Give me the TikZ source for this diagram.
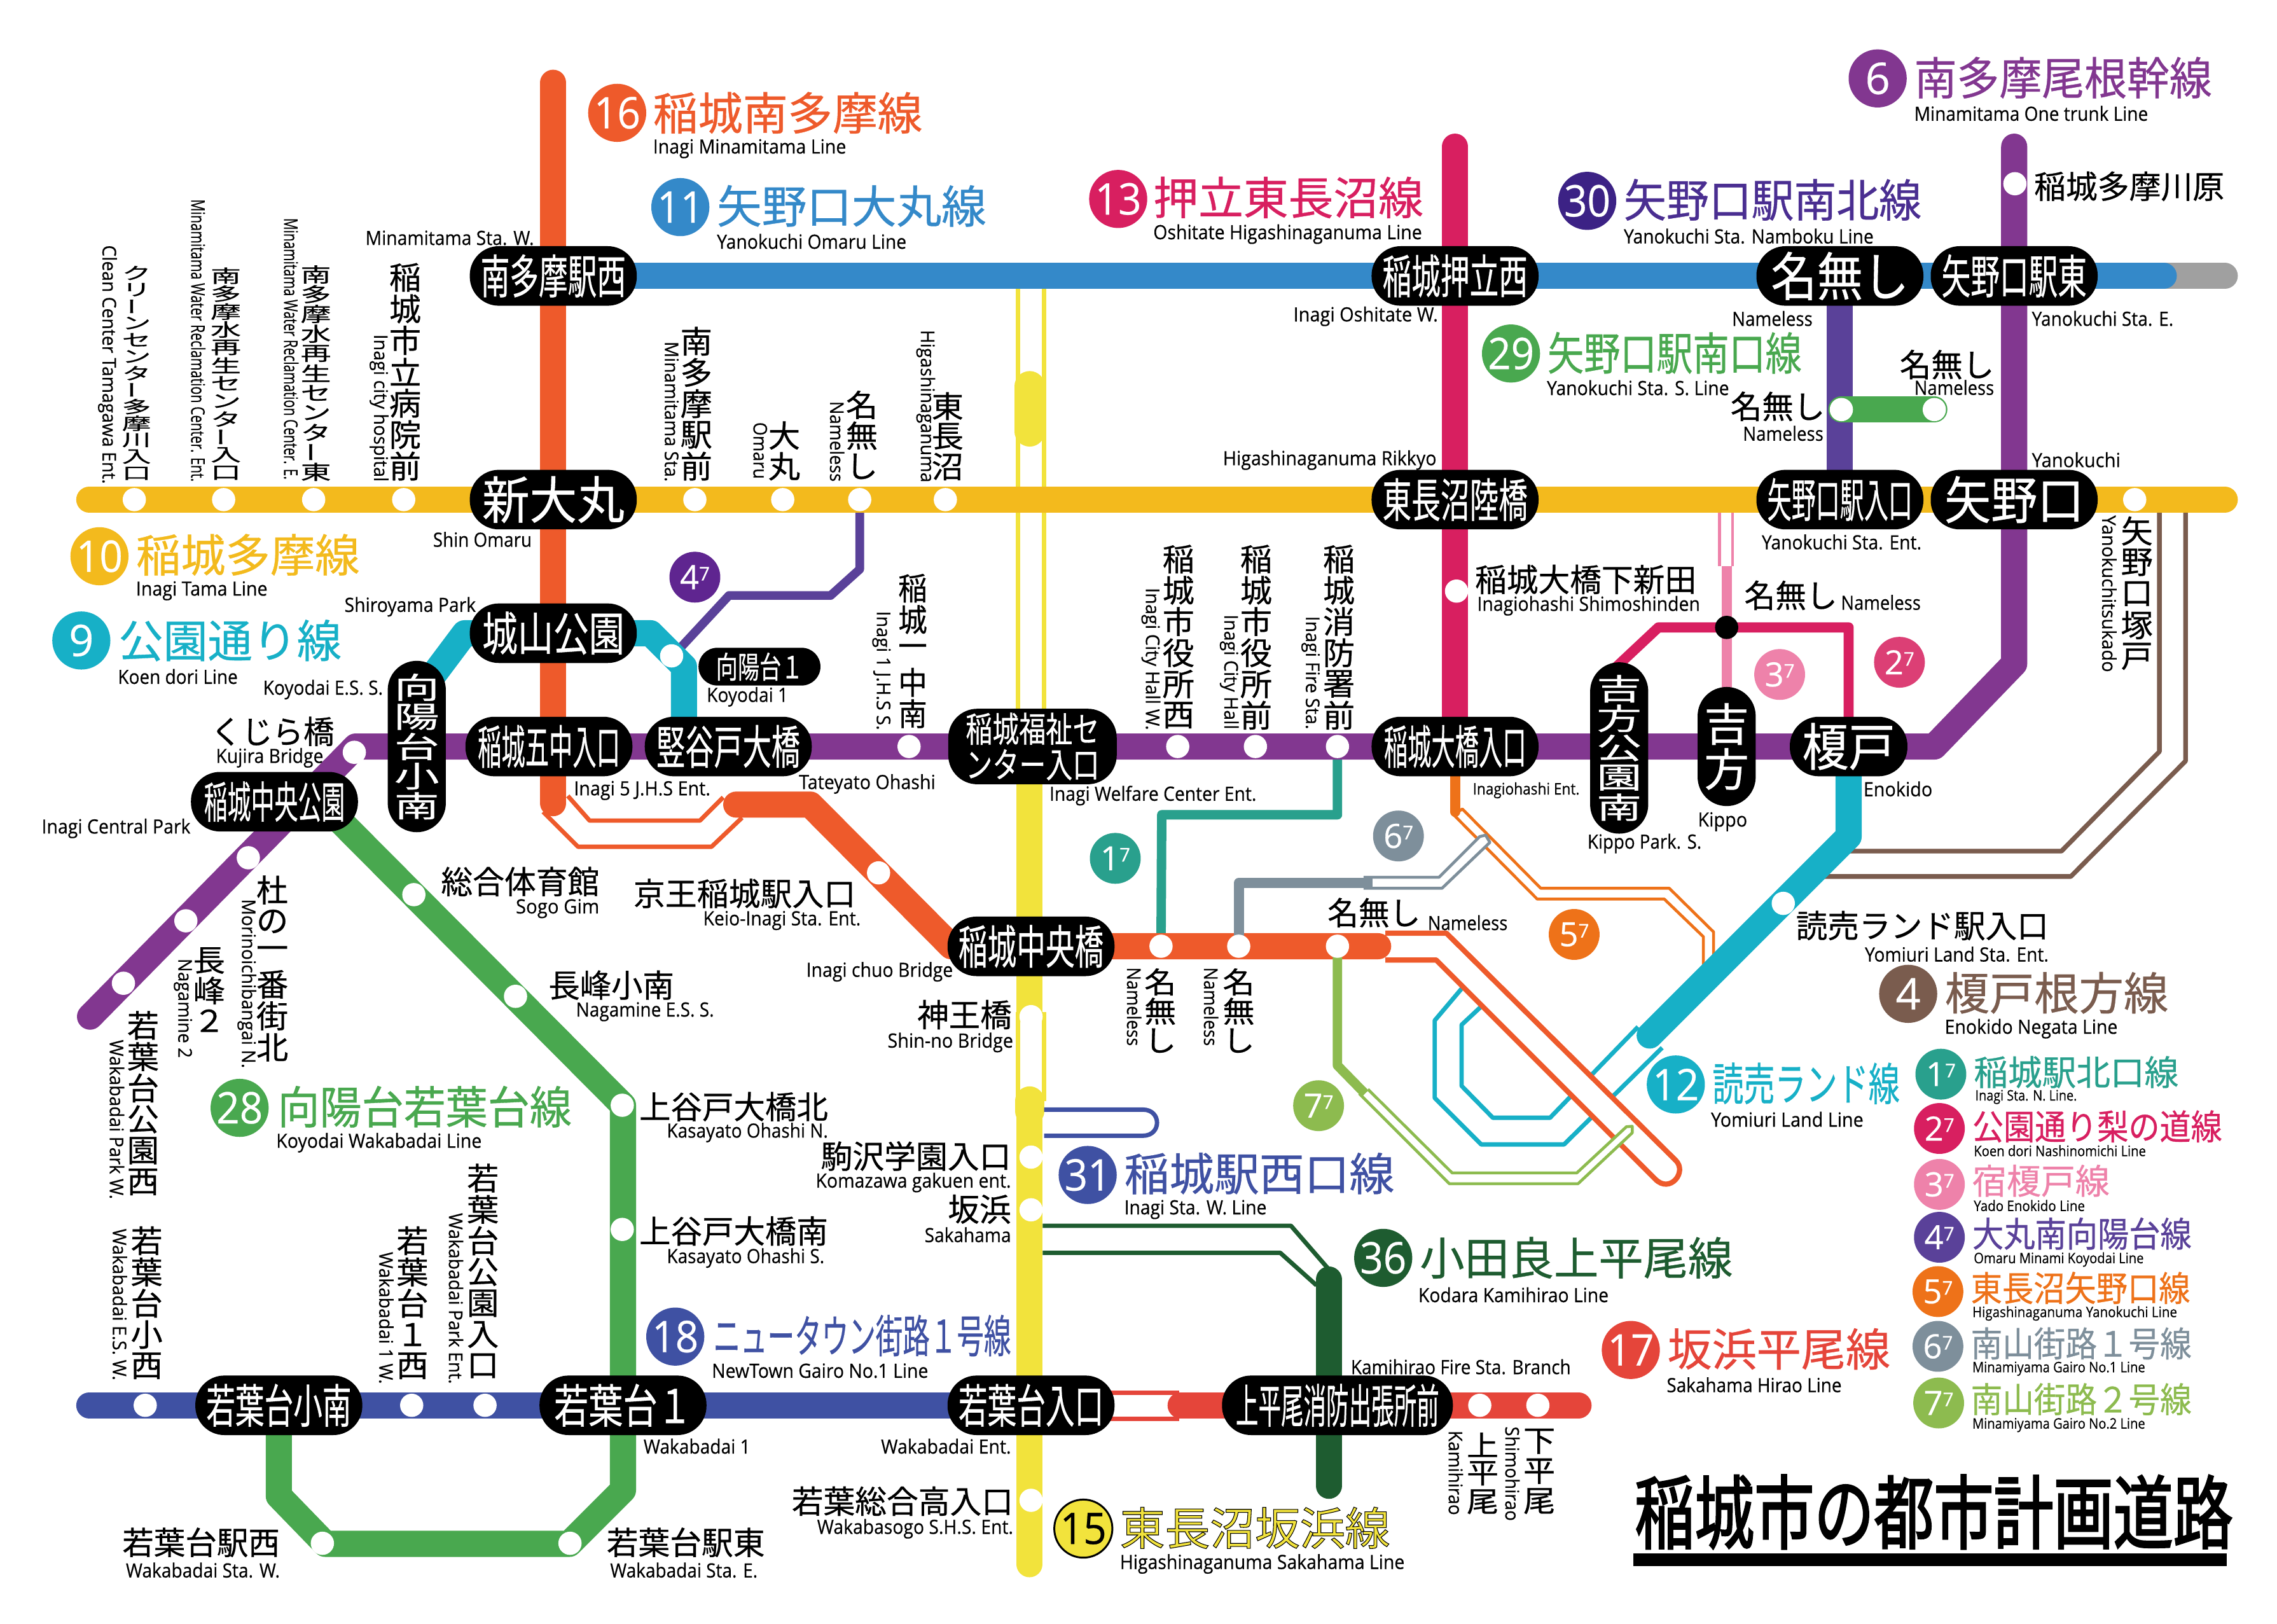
\documentclass[tikz,border=0pt]{standalone}
\usepackage{fontspec}
\usepackage{graphicx}
\usetikzlibrary{backgrounds}
\setmainfont{Open Sans}
\newfontfamily\jp{Noto Sans CJK JP}[FakeBold=0.5]
\newfontfamily\jpo{Noto Sans CJK JP}[FakeBold=1.5]
\newfontfamily\jph{Noto Sans CJK JP}[FakeBold=2.4]
\newfontfamily\lf{Open Sans}[FakeBold=0.4]
\definecolor{cOr}{HTML}{EE5A2B}
\definecolor{cBl}{HTML}{3489C9}
\definecolor{cYe}{HTML}{F3BA1D}
\definecolor{cCy}{HTML}{17B0C7}
\definecolor{cCr}{HTML}{D81F60}
\definecolor{cDv}{HTML}{3C2285}
\definecolor{cPu}{HTML}{823790}
\definecolor{cGr}{HTML}{49A84F}
\definecolor{cBr}{HTML}{7A5C4E}
\definecolor{cDg}{HTML}{1E5C30}
\definecolor{cRe}{HTML}{E5453A}
\definecolor{cNv}{HTML}{3F51A3}
\definecolor{cLy}{HTML}{F2E33C}
\definecolor{cTe}{HTML}{29A08D}
\definecolor{cMg}{HTML}{DC3F75}
\definecolor{cPk}{HTML}{EE82AA}
\definecolor{cVi}{HTML}{5A4199}
\definecolor{cDp}{HTML}{5F2590}
\definecolor{cOg}{HTML}{EE7219}
\definecolor{cGy}{HTML}{7E8F9B}
\definecolor{cLg}{HTML}{8DBB4F}
\definecolor{cSv}{HTML}{A0A0A0}
\definecolor{cTv}{HTML}{4A2E91}
\newcount\lc
\makeatletter
\newcommand\vstack[1]{\vbox{\offinterlineskip\@tfor\vchr:=#1\do{\hbox to 20pt{\hss\vbox to 20pt{\vss\hbox{\fontsize{20}{20}\selectfont\vchr}\vss}\hss}}}}
\makeatother
\newcommand\cho{\rotatebox{90}{ー}}
\newcommand\fit[3]{\resizebox{#1pt}{\height}{\fontsize{#2}{#2}\selectfont #3}}
\newcommand\hl[7]{\global\advance\lc by 1
  \pgfmathsetlengthmacro\lw{#5-#4}%
  \node[anchor=west,inner sep=0pt,text=#3,name=L\the\lc] at (#4,#6) {\resizebox{\lw}{\height}{#1\fontsize{#2}{#2}\selectfont #7}};}
\newcommand\la[4]{\pgfmathsetmacro\ly{#3+0.8}\hl{\lf}{13.5}{black}{#1}{#2}{\ly}{#4}}
\newcommand\las[4]{\hl{\lf}{10}{black}{#1}{#2}{#3}{#4}}
\newcommand\lj[4]{\hl{\jp}{22}{black}{#1}{#2}{#3}{#4}}
\newcommand\ttlc[5]{\hl{\jp}{31}{#1}{#2}{#3}{#4}{#5}}
\newcommand\lgt[5]{\hl{\jp}{24}{#1}{#2}{#3}{#4}{#5}}
\newcommand\rl[4]{\global\advance\lc by 1
  \pgfmathsetlengthmacro\lw{#3-#2}%
  \node[anchor=west,rotate=-90,inner sep=0pt,name=L\the\lc] at (#1,#2) {\resizebox{\lw}{\height}{\lf\fontsize{13}{13}\selectfont #4}};}
\newcommand\vj[5]{\global\advance\lc by 1
  \pgfmathsetlengthmacro\lw{#3-#2}%
  \node[anchor=north,inner sep=0pt,name=L\the\lc] at (#1,#2) {\resizebox*{#4pt}{\lw}{\jp\vstack{#5}}};}
\newcommand\bdgb[5]{\node[bigb,fill=#2] (#1) at (#3,#4) {\fit{32}{30}{#5}};}
\newcommand\bdga[5]{\node[bigb,fill=#2] (#1) at (#3,#4) {\fontsize{30}{30}\selectfont #5};}
\newcommand\bdgs[5]{\node[smallb,fill=#2] (#1) at (#3,#4) {\fontsize{23}{23}\selectfont #5\raisebox{6pt}{\fontsize{13}{13}\selectfont 7}};}
\tikzset{
  pill/.style={rectangle,fill=black,text=white,rounded corners=20pt,inner sep=0pt,minimum width=115pt,minimum height=41pt},
  vpill/.style={rectangle,fill=black,text=white,rounded corners=20pt,inner sep=0pt,minimum width=40pt},
  dot/.style={circle,fill=white,inner sep=0pt,minimum size=16pt},
  bigb/.style={circle,inner sep=0pt,minimum size=40pt,text=white,font=\lf},
  smallb/.style={circle,inner sep=0pt,minimum size=35pt,text=white,font=\lf},
  thick18/.style={line width=18pt,line cap=round,line join=round},
  thin3/.style={line width=3pt,line join=round,line cap=butt},
  thin2/.style={line width=2pt,line join=round,line cap=butt},
  mid7/.style={line width=7pt,line join=round,line cap=butt},
}
\begin{document}
\begin{tikzpicture}[x=1pt,y=-1pt]
\useasboundingbox (0,0) rectangle (1568,1118);
% ---------- route corners
\foreach \n/\x/\y in {
 tamaW/61.5/344,tamaE/1532/344,blueE/1490/190,greyE/1532/190,
 orTop/381/57,orEnd/381/553,or2S/507/554,or2C/558/554,or2D/655/651.5,or3E/949/651.5,
 ua1/391/548,ua2/406/565,ua3/482/565,ua4/498/549,ub1/374/559,ub2/398/583,ub3/490/583,ub4/511/563,
 ot1/954/642.5,ot2/996/642.5,ot3/1154/799,ot4/1162/807,ot5/1150/822,ot6/1140/812,ot7/989/661,ot8/954/661,
 puTop/1387/101,puA/1387/457,puB/1332/514,puC/245/514,puD/62/700,
 cyA/287/480,cyB/320/436,cyC/448/436,cyD/471/459,
 viA/592/392,viB/572/410,viC/502/410,viD/463/452,
 grA/192/1030,grB/224/1063,grC/392/1063,grD/429/1026,grE/429/761,grF/221/552,
 yLa/701/199,yLb/701/520,yRa/719/199,yRb/719/520,capA/709/266,capB/709/297,yMa/709/520,yMb/709/697,
 yLc/701/697,yLd/701/758,yRc/719/697,yRd/719/758,yBa/709/758,yBb/709/1077,yBc/709/765,
 nvA/719/764,nvB/787/764,nvC/800/764,nvD/800/782,nvE/787/782,nvF/719/782,
 reLa/718/959,reLb/812/959,reRa/718/977,reRb/812/977,reS/813/967.6,reE/1087/967.6,
 dgA/915/881,dgB/915/1023,dtA/718/844,dtB/889/844,dtC/922/882,dtD/718/862.6,dtE/881.6/862.6,dtF/906.6/885,
 crTop/1002/101,pkA/1189/390,pkLa/1184/350,pkLb/1184/390,pkRa/1193/350,pkRb/1193/390,
 mgA/1110/462,mgB/1142/432,mgC/1273/432,
 brA/1487/350,brB/1487/517.5,brC/1419.6/586,brD/1270/586,brE/1505/350,brF/1505/524,brG/1426/603.5,brH/1252/603.5,
 cyE/1273/576,cyF/1136/713,
 li1/1128/707,li2/1067.4/769.6,li3/1028/769.6,li4/1006.5/747.7,li5/1006.5/705.6,li6/1020/693,
 lo1/1144.6/721.4,lo2/1077/788,lo3/1020/788,lo4/988/756,lo5/988/702.6,lo6/1006.5/680.7,
 ogA/1002/559,oa1/1007/557,oa2/1061/611.6,oa3/1149.5/611.6,oa4/1180/641.7,oa5/1180/660,
 ob1/1001/561,ob2/1058.5/619,ob3/1146/619,ob4/1173/645,ob5/1173/664,
 gyA/853/608,gyB/945/608,ga1/939/604,ga2/991/604,ga3/1019/576,ga4/1023/575,ga5/1026/580,ga6/993/611.6,ga7/939/611.6,
 teA/921/561,teB/800/561,
 lgA/921/733.6,lgB/940/753,lt1/942/750,lt2/1000/807.6,lt3/1085.8/807.6,lt4/1120/775.8,lt5/1124/775.5,lt6/1124/780,lt7/1086.7/815,lt8/998/815,lt9/936/753}
 \coordinate (\n) at (\x,\y);
% ---------- stations
\foreach \n/\x/\y in {
 s1/92.5/344,s2/154/344,s3/216/344,s4/278/344,s5/478.5/344,s6/539/344,s7/592/344,s8/651/344,s9/1470/344,
 k1/244/518,m1/626/514,m2/811/514,m3/864.5/514,m4/921/514,p1/171/590.6,p2/128/634,p3/85/677,
 r1/1387.5/126.5,r2/1003/407,g1/1268/282,g2/1332/282,c1/462.5/451.6,c2/1228/622,
 o1/605/601,o2/799.5/651.5,o3/853/651.5,o4/921/651.5,
 y1/710/700,y2/710/796.7,y3/710/833,y4/710/1033,
 t1/285/616,t2/355/686,t3/428.5/761,t4/428.5/846.5,t5/392.5/1062.6,t6/222/1062.6,
 b1/100/967.6,b2/283.5/967.6,b3/334/967.6,e1/1019/967.6,e2/1059/967.6}
 \node[dot] (\n) at (\x,\y) {};
\node[dot,fill=black] (jn) at (1189,432) {};
% ---------- pills
\jp
\node[pill] (pMW) at (381,190) {\fit{100}{32}{南多摩駅西}};
\node[pill] (pOW) at (1002,190) {\fit{100}{32}{稲城押立西}};
\node[pill] (pNN) at (1267,190) {\fit{95}{36}{名無し}};
\node[pill] (pYE) at (1387,190) {\fit{100}{32}{矢野口駅東}};
\node[pill] (pSO) at (381,344) {\fit{98}{35}{新大丸}};
\node[pill] (pHR) at (1002,344) {\fit{100}{32}{東長沼陸橋}};
\node[pill] (pYS) at (1267,344) {\fit{100}{32}{矢野口駅入口}};
\node[pill] (pYA) at (1387,344) {\fit{96}{35}{矢野口}};
\node[pill] (pSP) at (381,436) {\fit{98}{32}{城山公園}};
\node[pill,minimum width=84pt,minimum height=26pt,rounded corners=13pt] (pK1) at (523,459) {\fit{60}{21}{向陽台１}};
\node[pill] (pI5) at (378,514) {\fit{98}{32}{稲城五中入口}};
\node[pill] (pTO) at (501.5,514) {\fit{99}{32}{竪谷戸大橋}};
\node[pill,minimum width=116pt,minimum height=52pt] (pWC) at (711,514) {\vbox{\hbox{\fit{92}{24}{稲城福祉セ}}\kern2pt\hbox{\fit{92}{24}{ンター入口}}}};
\node[pill] (pIE) at (1002,514) {\fit{98}{32}{稲城大橋入口}};
\node[pill,minimum width=81pt] (pEN) at (1273,514) {\fit{64}{35}{榎戸}};
\node[pill] (pCP) at (189,552) {\fit{97}{30}{稲城中央公園}};
\node[pill] (pCB) at (710,651.6) {\fit{100}{32}{稲城中央橋}};
\node[pill] (pWS) at (192,967.6) {\fit{100}{32}{若葉台小南}};
\node[pill] (pW1) at (429,967.6) {\fit{95}{32}{若葉台１}};
\node[pill] (pWE) at (710,967.6) {\fit{100}{32}{若葉台入口}};
\node[pill,minimum width=159pt] (pFB) at (921,967.6) {\fit{140}{32}{上平尾消防出張所前}};
\node[vpill,minimum height=118pt] (pKS) at (287,514) {\resizebox*{31pt}{102pt}{\vstack{向陽台小南}}};
\node[vpill,minimum height=118pt] (pKP) at (1115,515) {\resizebox*{31pt}{102pt}{\vstack{吉方公園南}}};
\node[vpill,minimum height=82pt] (pKI) at (1189,514) {\resizebox*{31pt}{62pt}{\vstack{吉方}}};
% ---------- lines, below the stations
\begin{scope}[on background layer]
\fill[white] (0,0) rectangle (1568,1118);
% 15 yellow
\draw[thin3,cLy] (yLa)--(yLb) (yRa)--(yRb) (yLc)--(yLd) (yRc)--(yRd);
\draw[line width=21pt,line cap=round,cLy] (capA)--(capB);
\draw[thick18,cLy] (yMa)--(yMb) (yBa)--(yBb);
\draw[line width=20pt,line cap=round,cLy] (yBa)--(yBc);
% 31
\draw[thin3,cNv] (nvA)--(nvB) .. controls (nvC) and (nvD) .. (nvE)--(nvF);
% 17
\draw[thin3,cRe] (reLa)--(reLb) (reRa)--(reRb);
\draw[thick18,cRe] (reS)--(reE);
% 36
\draw[thin3,cDg] (dtA)--(dtB)--(dtC) (dtD)--(dtE)--(dtF);
\draw[thick18,cDg] (dgA)--(dgB);
% 4 brown
\draw[line width=3.2pt,line join=round,cBr] (brA)--(brB)--(brC)--(brD) (brE)--(brF)--(brG)--(brH);
% 5^7
\filldraw[fill=white,draw=cOg,line width=2pt,line join=round] (oa5)--(oa4)--(oa3)--(oa2)--(oa1)--(ob1)--(ob2)--(ob3)--(ob4)--(ob5);
\draw[mid7,cOg,line cap=round] (pIE.center)--(ogA);
% 1^7
\draw[line width=6.5pt,line join=round,cTe] (m4.center)--(teA)--(teB)--(o2.center);
% 3^7, 2^7
\draw[thin2,cPk] (pkLa)--(pkLb) (pkRa)--(pkRb);
\draw[mid7,cPk] (pkA)--(pKI.center);
\draw[mid7,cCr] (mgA)--(mgB)--(mgC)--(pEN.center);
% 10, 11
\draw[thick18,cSv] (blueE)--(greyE);
\draw[thick18,cBl] (pMW.center)--(blueE);
\draw[thick18,cCr] (crTop)--(pIE.center);
\draw[thick18,cVi] (pNN.center)--(pYS.center);
\draw[thick18,cGr] (g1.center)--(g2.center);
\draw[thick18,cPu] (puTop)--(puA)--(puB)--(puC)--(puD);
\draw[line width=6pt,line join=round,cVi] (s7.center)--(viA)--(viB)--(viC)--(viD);
\draw[thick18,cYe] (tamaW)--(tamaE);
% 28 green
\draw[thick18,cGr] (pWS.center)--(grA)--(grB)--(grC)--(grD)--(grE)--(grF);
% 18 blue
\draw[thick18,cNv] (tamaW|-pWS.center)--(pWE.center);
% 9 cyan
\draw[thick18,cCy] (cyA)--(cyB)--(cyC)--(cyD)--(cyD|-pTO.center);
% 12 cyan
\draw[thin3,cCy] (li1)--(li2)--(li3)--(li4)--(li5)--(li6) (lo1)--(lo2)--(lo3)--(lo4)--(lo5)--(lo6);
\draw[thick18,cCy] (pEN.center)--(cyE)--(cyF);
% 16 orange
\draw[thin3,cOr] (ua1)--(ua2)--(ua3)--(ua4) (ub1)--(ub2)--(ub3)--(ub4);
\draw[thick18,cOr] (orTop)--(orEnd);
\filldraw[fill=white,draw=cOr,line width=3.6pt,line join=round] (ot1)--(ot2)--(ot3) .. controls (ot4) and (ot5) .. (ot6)--(ot7)--(ot8);
\draw[thick18,cOr] (or2S)--(or2C)--(or2D)--(or3E);
% 6^7, 7^7
\filldraw[fill=white,draw=cGy,thin2] (ga1)--(ga2)--(ga3)--(ga4)--(ga5)--(ga6)--(ga7);
\draw[mid7,cGy] (o3.center)--(gyA)--(gyB);
\filldraw[fill=white,draw=cLg,thin2] (lt1)--(lt2)--(lt3)--(lt4)--(lt5)--(lt6)--(lt7)--(lt8)--(lt9);
\draw[line width=6.5pt,line join=round,cLg] (o4.center)--(lgA)--(lgB);
\end{scope}
% ---------- badges
\bdgb{b16}{cOr}{425}{77.7}{16}
\bdgb{b11}{cBl}{468.5}{142.6}{11}
\bdgb{b13}{cCr}{770}{137}{13}
\bdgb{b30}{cDv}{1093}{138.3}{30}
\bdga{b6}{cPu}{1293}{54}{6}
\bdgb{b29}{cGr}{1040.5}{243.4}{29}
\bdgb{b10}{cYe}{68.5}{383}{10}
\bdga{b9}{cCy}{56}{441}{9}
\bdgb{b28}{cGr}{165}{762.8}{28}
\bdgb{b18}{cNv}{465}{920.3}{18}
\bdgb{b31}{cNv}{749}{809}{31}
\node[bigb,fill=cLy,draw=black,line width=1.3pt,text=black] (b15) at (746,1052.5) {\fit{32}{30}{15}};
\bdga{b4}{cBr}{1314}{684.3}{4}
\bdgb{b12}{cCy}{1154}{746.7}{12}
\bdgb{b36}{cDg}{952.5}{866.1}{36}
\bdgb{b17}{cRe}{1123}{929.5}{17}
\bdgs{m47}{cDp}{478.5}{397.4}{4}
\bdgs{m37}{cPk}{1225.5}{464.4}{3}
\bdgs{m27}{cMg}{1308}{456}{2}
\bdgs{m17}{cTe}{768}{591}{1}
\bdgs{m67}{cGy}{963}{575.6}{6}
\bdgs{m57}{cOg}{1084}{643.4}{5}
\bdgs{m77}{cLg}{908}{761.3}{7}
\bdgs{l1}{cTe}{1336.5}{739.6}{1}
\bdgs{l2}{cCr}{1335.5}{777}{2}
\bdgs{l3}{cPk}{1335.5}{815.5}{3}
\bdgs{l4}{cVi}{1335.5}{851.9}{4}
\bdgs{l5}{cOg}{1334.5}{889.3}{5}
\bdgs{l6}{cGy}{1334.5}{927}{6}
\bdgs{l7}{cLg}{1335}{966}{7}
% ---------- titles
\ttlc{cOr}{449.5}{635}{77.7}{稲城南多摩線}
\la{449.5}{582.5}{101.6}{Inagi Minamitama Line}
\ttlc{cBl}{493.5}{679}{141.8}{矢野口大丸線}
\la{493.5}{624}{165.4}{Yanokuchi Omaru Line}
\ttlc{cCr}{794}{980}{136}{押立東長沼線}
\la{794}{979}{160.4}{Oshitate Higashinaganuma Line}
\ttlc{cTv}{1118}{1323}{137.6}{矢野口駅南北線}
\la{1118}{1290}{161.8}{Yanokuchi Sta. Namboku Line}
\ttlc{cPu}{1318}{1523}{53.5}{南多摩尾根幹線}
\la{1318}{1479}{77.3}{Minamitama One trunk Line}
\ttlc{cGr}{1065.5}{1240.5}{243}{矢野口駅南口線}
\la{1065}{1190.5}{266.2}{Yanokuchi Sta. S. Line}
\ttlc{cYe}{93.5}{247.5}{382}{稲城多摩線}
\la{93.5}{184}{406}{Inagi Tama Line}
\ttlc{cCy}{81.5}{235}{441}{公園通り線}
\la{81}{163.5}{465}{Koen dori Line}
\ttlc{cGr}{191}{393.5}{762}{向陽台若葉台線}
\la{190}{331.5}{786}{Koyodai Wakabadai Line}
\ttlc{cNv}{491}{696}{919.6}{ニュータウン街路１号線}
\la{490}{639}{943}{NewTown Gairo No.1 Line}
\ttlc{cNv}{774}{960}{808}{稲城駅西口線}
\la{774}{872}{832}{Inagi Sta. W. Line}
\global\advance\lc by 1
\node[anchor=west,inner sep=0pt,name=L\the\lc] at (771,1052) {\resizebox{186pt}{\height}{\jpo\fontsize{31}{31}\selectfont\color{cLy}\special{pdf:code 0 0 0 RG}東長沼坂浜線}};
\la{771}{967}{1076}{Higashinaganuma Sakahama Line}
\ttlc{cBr}{1339}{1493}{683.6}{榎戸根方線}
\la{1339}{1458}{707.5}{Enokido Negata Line}
\ttlc{cCy}{1179}{1308}{746}{読売ランド線}
\la{1178}{1283}{769.9}{Yomiuri Land Line}
\ttlc{cDg}{977.5}{1193}{866}{小田良上平尾線}
\la{976.5}{1107.5}{890.7}{Kodara Kamihirao Line}
\ttlc{cRe}{1148}{1301.5}{928.8}{坂浜平尾線}
\la{1147.5}{1268}{952.7}{Sakahama Hirao Line}
% legend
\lgt{cTe}{1359}{1500}{738.2}{稲城駅北口線}
\las{1360}{1430}{755.3}{Inagi Sta. N. Line.}
\lgt{cCr}{1358}{1530}{775.6}{公園通り梨の道線}
\las{1359}{1477.5}{792.3}{Koen dori Nashinomichi Line}
\lgt{cPk}{1358}{1452.5}{813}{宿榎戸線}
\las{1359}{1435.5}{830.1}{Yado Enokido Line}
\lgt{cVi}{1358}{1509}{849.4}{大丸南向陽台線}
\las{1359}{1476}{867.2}{Omaru Minami Koyodai Line}
\lgt{cOg}{1357}{1508}{886.8}{東長沼矢野口線}
\las{1358}{1499}{904.3}{Higashinaganuma Yanokuchi Line}
\lgt{cGy}{1357}{1509}{925}{南山街路１号線}
\las{1358}{1477}{942.4}{Minamiyama Gairo No.1 Line}
\lgt{cLg}{1357}{1509}{963.4}{南山街路２号線}
\las{1358}{1477}{981.2}{Minamiyama Gairo No.2 Line}
% main title
\hl{\jph}{55}{black}{1125.5}{1537.5}{1041}{稲城市の都市計画道路}
\node[fill=black,inner sep=0pt,minimum width=408.5pt,minimum height=9pt,anchor=west] (rule) at (1124.5,1074) {};
% ---------- horizontal labels
\la{251.5}{367.5}{163}{Minamitama Sta. W.}
\la{298}{366}{370.6}{Shin Omaru}
\la{237}{327.5}{417}{Shiroyama Park}
\la{181}{263.5}{474}{Koyodai E.S. S.}
\lj{145}{230}{503.6}{くじら橋}
\la{148.5}{222.5}{521}{Kujira Bridge}
\la{486.5}{542.5}{479}{Koyodai 1}
\la{395}{489}{543.5}{Inagi 5 J.H.S Ent.}
\la{550}{644}{539}{Tateyato Ohashi}
\la{722.5}{865}{547}{Inagi Welfare Center Ent.}
\la{28.5}{131}{569.6}{Inagi Central Park}
\lj{303.5}{412.5}{607}{総合体育館}
\la{355}{412.5}{624.8}{Sogo Gim}
\lj{436}{589}{615.2}{京王稲城駅入口}
\la{484}{592.5}{633}{Keio-Inagi Sta. Ent.}
\la{555}{656}{668.3}{Inagi chuo Bridge}
\lj{631.5}{696.5}{698.6}{神王橋}
\la{611}{697.5}{717}{Shin-no Bridge}
\lj{377.5}{464}{678.3}{長峰小南}
\la{396.5}{491.5}{695.8}{Nagamine E.S. S.}
\lj{440}{570}{762}{上谷戸大橋北}
\la{459}{570}{779}{Kasayato Ohashi N.}
\lj{565}{696}{796}{駒沢学園入口}
\la{561.5}{696}{813.4}{Komazawa gakuen ent.}
\lj{652.5}{696}{832.6}{坂浜}
\la{636.5}{696}{849.4}{Sakahama}
\lj{440}{570}{847.6}{上谷戸大橋南}
\la{459}{567.5}{865.4}{Kasayato Ohashi S.}
\la{443}{516.5}{995}{Wakabadai 1}
\la{606.5}{696}{995}{Wakabadai Ent.}
\lj{545}{697.5}{1033.6}{若葉総合高入口}
\la{562.5}{697.5}{1051.8}{Wakabasogo S.H.S. Ent.}
\lj{84}{192.5}{1062}{若葉台駅西}
\la{86.5}{192.5}{1080.3}{Wakabadai Sta. W.}
\lj{417.5}{526.5}{1062}{若葉台駅東}
\la{420}{521.5}{1080.3}{Wakabadai Sta. E.}
\lj{1400.5}{1531.5}{128.3}{稲城多摩川原}
\la{890.5}{990}{217}{Inagi Oshitate W.}
\la{1192.5}{1248}{218.5}{Nameless}
\la{1399}{1496.5}{218.5}{Yanokuchi Sta. E.}
\lj{1308}{1373}{251}{名無し}
\la{1318}{1373}{266}{Nameless}
\lj{1191.5}{1256.5}{279.8}{名無し}
\la{1200}{1255.5}{297.6}{Nameless}
\la{842}{989}{316}{Higashinaganuma Rikkyo}
\la{1399}{1460}{315.8}{Yanokuchi}
\la{1213}{1323}{372.4}{Yanokuchi Sta. Ent.}
\lj{1015.5}{1168}{399}{稲城大橋下新田}
\la{1017}{1170.5}{416.3}{Inagiohashi Shimoshinden}
\lj{1201}{1265}{409.9}{名無し}
\la{1267.5}{1322.5}{414}{Nameless}
\hl{\lf}{11}{black}{1014}{1087.5}{544.2}{Inagiohashi Ent.}
\la{1283}{1330.5}{542.4}{Enokido}
\la{1169}{1203}{565}{Kippo}
\la{1093}{1171.5}{580}{Kippo Park. S.}
\lj{914}{978}{628.4}{名無し}
\la{983}{1038}{634.5}{Nameless}
\lj{1236.5}{1410.5}{637.3}{読売ランド駅入口}
\la{1284}{1410.5}{656.2}{Yomiuri Land Sta. Ent.}
\la{930}{1081.5}{940.3}{Kamihirao Fire Sta. Branch}
% ---------- vertical labels
\vj{94}{182}{331.5}{20}{クリ\cho ンセンタ\cho 多摩川入口}
\rl{74}{168.6}{333}{Clean Center Tamagawa Ent.}
\vj{155.5}{183.5}{331.5}{21}{南多摩水再生センタ\cho 入口}
\rl{136.5}{137}{331.5}{Minamitama Water Reclamation Center. Ent.}
\vj{217.5}{182}{331.5}{21}{南多摩水再生センタ\cho 東}
\rl{200.5}{150}{330}{Minamitama Water Reclamation Center. E.}
\vj{279}{180}{331.5}{22}{稲城市立病院前}
\rl{261}{230}{331.5}{Inagi city hospital}
\vj{479.5}{224}{331.5}{22}{南多摩駅前}
\rl{462.5}{235}{331.5}{Minamitama Sta.}
\vj{540}{289}{331.5}{22}{大丸}
\rl{523.5}{290.5}{329.6}{Omaru}
\vj{593.5}{268}{331.5}{22}{名無し}
\rl{576.5}{276}{331.5}{Nameless}
\vj{652.5}{269}{331.5}{22}{東長沼}
\rl{637.5}{227}{332}{Higashinaganuma}
\vj{628.5}{394}{502}{20}{稲城一中南}
\rl{607}{420.5}{502.5}{Inagi 1 J.H.S S.}
\vj{811.5}{374}{503}{22}{稲城市役所西}
\rl{792.5}{404.5}{502.5}{Inagi City Hall W.}
\vj{865}{374}{503}{22}{稲城市役所前}
\rl{846.5}{423}{502}{Inagi City Hall}
\vj{922}{374}{503}{22}{稲城消防署前}
\rl{902.5}{424}{502}{Inagi Fire Sta.}
\vj{1471.5}{354.6}{462.6}{22}{矢野口塚戸}
\rl{1452.5}{354.6}{462.6}{Yanokuchitsukado}
\vj{187.5}{601.7}{731.8}{22}{杜の一番街北}
\rl{170}{618.8}{735.3}{Morinoichibangai N.}
\vj{144}{650.8}{712.9}{22}{長峰２}
\rl{126}{659.8}{728.2}{Nagamine 2}
\vj{98.5}{695}{824.4}{22}{若葉台公園西}
\rl{80.5}{715.7}{825.5}{Wakabadai Park W.}
\vj{101}{843.3}{951}{22}{若葉台小西}
\rl{82.5}{845.8}{950.2}{Wakabadai E.S. W.}
\vj{284}{843.3}{951}{22}{若葉台１西}
\rl{266}{861.8}{952.7}{Wakabadai 1 W.}
\vj{332.5}{800.2}{951}{22}{若葉台公園入口}
\rl{314}{835}{952.7}{Wakabadai Park Ent.}
\vj{799}{665.8}{726.4}{22}{名無し}
\rl{781}{665.8}{720}{Nameless}
\vj{853}{665.8}{726.4}{22}{名無し}
\rl{834}{665.8}{720}{Nameless}
\vj{1021}{984.8}{1043.6}{22}{上平尾}
\rl{1002.5}{984.8}{1043}{Kamihirao}
\vj{1060}{981.9}{1043.6}{22}{下平尾}
\rl{1041.5}{982}{1047}{Shimohirao}
\end{tikzpicture}
\end{document}
